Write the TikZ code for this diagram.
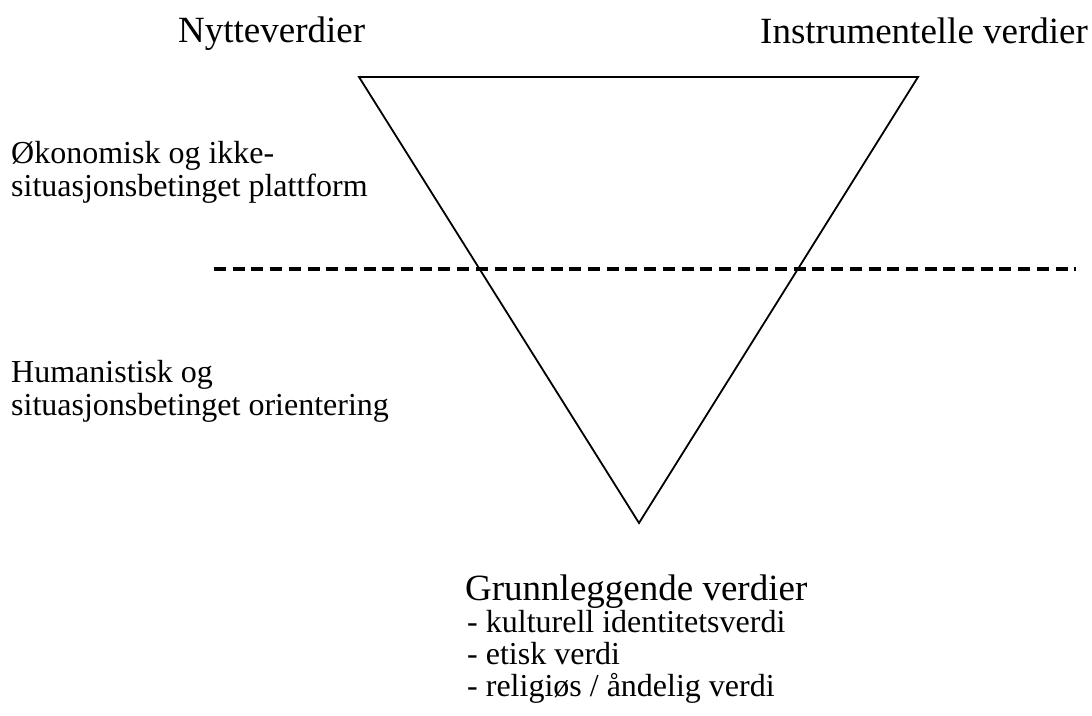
\documentclass[tikz,border=0pt]{standalone}
\usepackage{fontspec}
\setmainfont{Liberation Serif}
\usepackage{tikz}
\usetikzlibrary{positioning}

\begin{document}
\begin{tikzpicture}[x=1pt, y=-1pt,
    big/.style={anchor=base west, inner sep=0, font=\fontsize{37}{40}\selectfont},
    small/.style={anchor=base west, inner sep=0, align=left, font=\fontsize{32}{33}\selectfont}]
    \useasboundingbox (0,0) rectangle (1092,715);

	\coordinate (tl) at (359,77);
	\coordinate (tr) at (918,77);
	\coordinate (bot) at (639,523);
	\draw[line width=1.8pt, line join=miter] (tl) -- (tr) -- (bot) -- cycle;

	\coordinate (dl) at (214,269);
	\coordinate (dr) at (1076,269);
	\draw[line width=3.2pt, dash pattern=on 12pt off 6.7pt] (dl) -- (dr);

	\node[big] (nytte) at (178,42) {Nytteverdier};
	\node[big] (instr) at (760,43) {Instrumentelle verdier};

	% base anchor sits on the last line
	\node[small] (okon) at (11,196) {Økonomisk og ikke-\\situasjonsbetinget plattform};
	\node[small] (human) at (11,415) {Humanistisk og\\situasjonsbetinget orientering};

	\node[big] (grunn) at (465,600) {Grunnleggende verdier};
	\node[small, font=\fontsize{32}{32}\selectfont] (liste) at (467,696) {- kulturell identitetsverdi\\- etisk verdi\\- religiøs / åndelig verdi};
\end{tikzpicture}
\end{document}
